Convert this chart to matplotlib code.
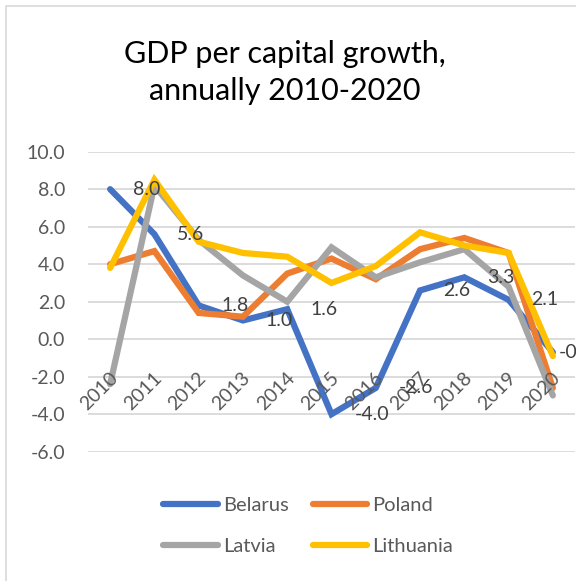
import matplotlib.pyplot as plt
from matplotlib.patches import Rectangle

years = ["2010", "2011", "2012", "2013", "2014", "2015", "2016", "2017", "2018", "2019", "2020"]
belarus = [8.0, 5.6, 1.8, 1.0, 1.6, -4.0, -2.6, 2.6, 3.3, 2.1, -0.7]
poland = [4.0, 4.7, 1.4, 1.2, 3.5, 4.3, 3.2, 4.8, 5.4, 4.6, -2.6]
latvia = [-2.4, 8.2, 5.3, 3.4, 2.0, 4.9, 3.3, 4.1, 4.8, 2.8, -3.0]
lithuania = [3.8, 8.5, 5.2, 4.6, 4.4, 3.0, 3.9, 5.7, 5.0, 4.6, -0.9]
yticks = [-6.0, -4.0, -2.0, 0.0, 2.0, 4.0, 6.0, 8.0, 10.0]

plt.rcParams["font.family"] = ["Lato", "DejaVu Sans"]
GREY_TXT = "#595959"

fig = plt.figure(figsize=(5.76, 5.81), dpi=100)
W, H = 576, 581

# chart area frame (runs off the right and bottom edge)
fig.patches.append(Rectangle((6 / W, -0.1), 1.2, 1.1 - 6 / H, transform=fig.transFigure,
                             fill=False, edgecolor="#d9d9d9", linewidth=1.2))

ax = fig.add_axes([88 / W, 1 - 451.7 / H, (575 - 88) / W, 300 / H])
ax.set_xlim(-0.5, len(years) - 0.5)
ax.set_ylim(-6, 10)
for s in ax.spines.values():
    s.set_visible(False)
ax.set_yticks(yticks)
ax.set_yticklabels([f"{v:.1f}" for v in yticks], color=GREY_TXT, fontsize=14)
ax.tick_params(axis="y", length=0, pad=16.5)
ax.set_xticks([])
ax.grid(axis="y", color="#d9d9d9", linewidth=1.3)
ax.set_axisbelow(True)

x = list(range(len(years)))
series = [
    ("Belarus", belarus, "#4472c4"),
    ("Poland", poland, "#ed7d31"),
    ("Latvia", latvia, "#a5a5a5"),
    ("Lithuania", lithuania, "#ffc000"),
]
lines = {}
for name, vals, col in series:
    lines[name], = ax.plot(x, vals, color=col, linewidth=4.5, label=name,
                           solid_capstyle="round", solid_joinstyle="miter", clip_on=False)

# category labels sit on the zero line, turned 45 degrees
for xi, yr in zip(x, years):
    ax.annotate(yr, (xi, 0), xytext=(-1, -21.5), textcoords="offset points",
                rotation=45, rotation_mode="anchor", ha="right", va="top",
                fontsize=14, color=GREY_TXT, annotation_clip=False)

# Belarus value labels to the right of each point
for i, v in enumerate(belarus):
    dx = 16.5 if i < len(belarus) - 1 else 4
    ax.annotate(f"{v:.1f}", (i, v), xytext=(dx, 0), textcoords="offset points",
                ha="left", va="center", fontsize=14, color="#404040",
                annotation_clip=False)

fig.text(285 / W, 1 - 100 / H, "GDP per capital growth,\nannually 2010-2020",
         ha="center", va="baseline", fontsize=22, color="black", linespacing=1.4)

# legend reads row by row: Belarus, Poland / Latvia, Lithuania
order = ["Belarus", "Latvia", "Poland", "Lithuania"]
leg = fig.legend([lines[n] for n in order], order, loc="center",
                 bbox_to_anchor=(308 / W, 1 - 526 / H), ncol=2,
                 frameon=False, fontsize=14.5, handlelength=2.7, handletextpad=0.25,
                 columnspacing=1.2, labelspacing=1.15, labelcolor=GREY_TXT)
for h in leg.get_lines():
    h.set_linewidth(4.5)

fig.savefig("out.png", dpi=100)
